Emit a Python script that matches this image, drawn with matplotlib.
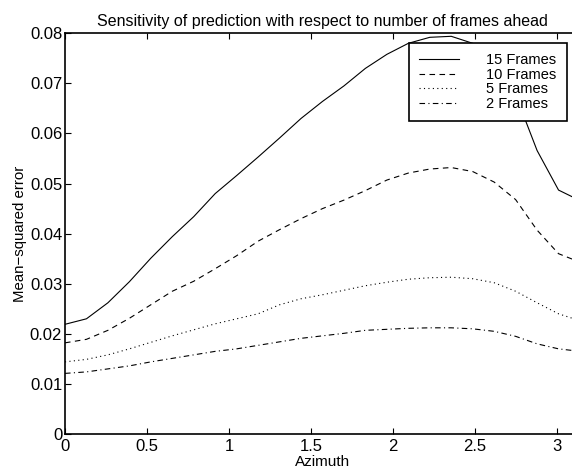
import numpy as np
import matplotlib
matplotlib.use('Agg')
import matplotlib.pyplot as plt

plt.rcParams['font.family'] = ['Liberation Sans', 'DejaVu Sans']

# azimuth samples (k * pi / 24)
azimuth = np.arange(25) * np.pi / 24
mse_15 = [0.0219, 0.0230, 0.0262, 0.0304, 0.0351, 0.0394, 0.0434, 0.0480, 0.0516,
          0.0553, 0.0591, 0.0630, 0.0664, 0.0695, 0.0730, 0.0758, 0.0780, 0.0792,
          0.0794, 0.0780, 0.0745, 0.0677, 0.0566, 0.0487, 0.0466]
mse_10 = [0.0182, 0.0189, 0.0207, 0.0231, 0.0258, 0.0285, 0.0305, 0.0330, 0.0356,
          0.0385, 0.0408, 0.0430, 0.0450, 0.0467, 0.0486, 0.0507, 0.0521, 0.0529,
          0.0532, 0.0524, 0.0503, 0.0468, 0.0407, 0.0360, 0.0343]
mse_5 = [0.0144, 0.0149, 0.0158, 0.0170, 0.0183, 0.0196, 0.0208, 0.0220, 0.0230,
         0.0240, 0.0258, 0.0270, 0.0278, 0.0287, 0.0296, 0.0303, 0.0309, 0.0312,
         0.0313, 0.0310, 0.0302, 0.0285, 0.0262, 0.0240, 0.0226]
mse_2 = [0.0121, 0.0124, 0.0130, 0.0136, 0.0144, 0.0151, 0.0158, 0.0165, 0.0170,
         0.0177, 0.0184, 0.0191, 0.0196, 0.0201, 0.0207, 0.0209, 0.0211, 0.0212,
         0.0212, 0.0210, 0.0205, 0.0195, 0.0180, 0.0170, 0.0165]
labels = ['15 Frames', '10 Frames', '5 Frames', '2 Frames']

fig = plt.figure(figsize=(5.72, 4.72), dpi=100)
ax = fig.add_axes([65 / 572, 38 / 472, 515 / 572, 400.7 / 472])

ax.plot(azimuth, mse_15, 'k-', lw=0.8, label=labels[0])
ax.plot(azimuth, mse_10, 'k--', lw=0.8, dashes=(5, 4), label=labels[1])
ax.plot(azimuth, mse_5, 'k:', lw=0.8, dashes=(1, 3), label=labels[2])
ax.plot(azimuth, mse_2, 'k-.', lw=0.8, dashes=(5, 3, 1, 3), label=labels[3])

ax.set_xlim(0, np.pi)
ax.set_ylim(0, 0.08)
ax.set_xticks([0, 0.5, 1, 1.5, 2, 2.5, 3])
ax.set_xticklabels(['0', '0.5', '1', '1.5', '2', '2.5', '3'])
ax.set_yticks(np.arange(0, 0.081, 0.01))
ax.set_yticklabels(['0', '0.01', '0.02', '0.03', '0.04', '0.05', '0.06', '0.07', '0.08'])
ax.tick_params(direction='in', top=True, right=True, length=4, width=0.8,
               labelsize=12, pad=2)
ax.tick_params(axis='x', pad=3.5)
for s in ax.spines.values():
    s.set_linewidth(1.2)

ax.set_title('Sensitivity of prediction with respect to number of frames ahead',
             fontsize=11.5, pad=5)
ax.set_xlabel('Azimuth', fontsize=11, labelpad=0.5)
ax.set_ylabel('Mean\u2212squared error', fontsize=10.8, labelpad=2)

leg = ax.legend(loc='upper right', bbox_to_anchor=(566.7 / 572, (472 - 42.7) / 472),
                bbox_transform=fig.transFigure, borderaxespad=0, fancybox=False,
                edgecolor='black', framealpha=1, fontsize=10.5, handlelength=2.75,
                labelspacing=0.05, handletextpad=1.85, borderpad=0.7)
leg.get_frame().set_linewidth(1.2)

fig.savefig('out.png', dpi=100)
